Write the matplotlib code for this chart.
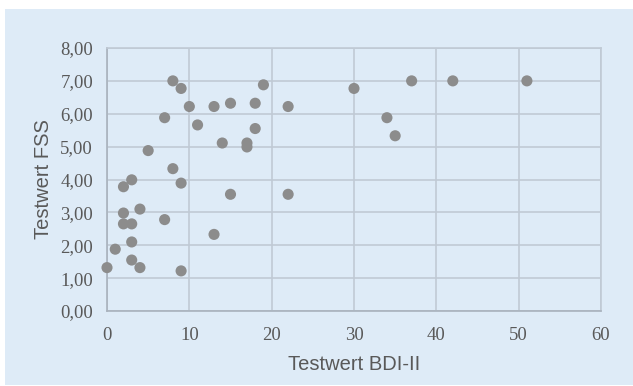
import matplotlib
matplotlib.use("Agg")
import matplotlib.pyplot as plt
from matplotlib.patches import Rectangle
from matplotlib.ticker import FuncFormatter

# Data
bdi = [8, 9, 10, 7, 11, 13, 15, 18, 19, 22, 18, 14, 17, 17, 5, 8, 9, 2, 3, 15, 22,
       2, 4, 2, 3, 7, 13, 3, 1, 3, 0, 4, 9,
       30, 37, 42, 51, 34, 35]
fss = [7.00, 6.77, 6.22, 5.88, 5.66, 6.22, 6.32, 6.32, 6.88, 6.22, 5.55, 5.11, 5.11, 4.99, 4.88, 4.33, 3.89, 3.78, 3.99, 3.55, 3.55,
       2.98, 3.10, 2.65, 2.65, 2.78, 2.33, 2.10, 1.88, 1.55, 1.32, 1.32, 1.22,
       6.77, 7.00, 7.00, 7.00, 5.88, 5.33]

x_ticks = [0, 10, 20, 30, 40, 50, 60]
y_ticks = [0, 1, 2, 3, 4, 5, 6, 7, 8]
x_label = "Testwert BDI-II"
y_label = "Testwert FSS"

W, H = 633, 386
fig = plt.figure(figsize=(W / 100, H / 100), dpi=100, facecolor="white")
bg = "#deebf7"
fig.add_artist(Rectangle((5 / W, 1 / H), (W - 5) / W, (H - 10) / H,
                         transform=fig.transFigure, facecolor=bg,
                         edgecolor="none", zorder=-10))

ax = fig.add_axes([107 / W, (H - 311) / H, 494 / W, 263 / H])
ax.set_zorder(1)
ax.set_facecolor(bg)
ax.set_xlim(0, 60)
ax.set_ylim(0, 8)
ax.set_xticks(x_ticks)
ax.set_yticks(y_ticks)
ax.yaxis.set_major_formatter(FuncFormatter(lambda v, p: f"{v:.2f}".replace(".", ",")))

grid_c = "#c0cad5"
ax.grid(True, color=grid_c, linewidth=1.2, zorder=1)
ax.set_axisbelow(True)
for s in ["top", "right"]:
    ax.spines[s].set_color(grid_c)
    ax.spines[s].set_linewidth(1.2)
for s in ["left", "bottom"]:
    ax.spines[s].set_color("#a9b2bd")
    ax.spines[s].set_linewidth(1.2)

ax.tick_params(length=0, labelsize=13.5, labelcolor="#595959")
ax.tick_params(axis="x", pad=11.5)
ax.tick_params(axis="y", pad=10)
for lab in ax.get_xticklabels() + ax.get_yticklabels():
    lab.set_family("Liberation Serif")

ax.scatter(bdi, fss, s=64, color="#8c8c8c", edgecolors="none", zorder=3, clip_on=False)

ax.set_xlabel(x_label, family="Liberation Sans", fontsize=14.5, color="#595959", labelpad=8)
ax.set_ylabel(y_label, family="Liberation Sans", fontsize=14.5, color="#595959", labelpad=5)

fig.savefig("out.png", dpi=100, facecolor="white")
